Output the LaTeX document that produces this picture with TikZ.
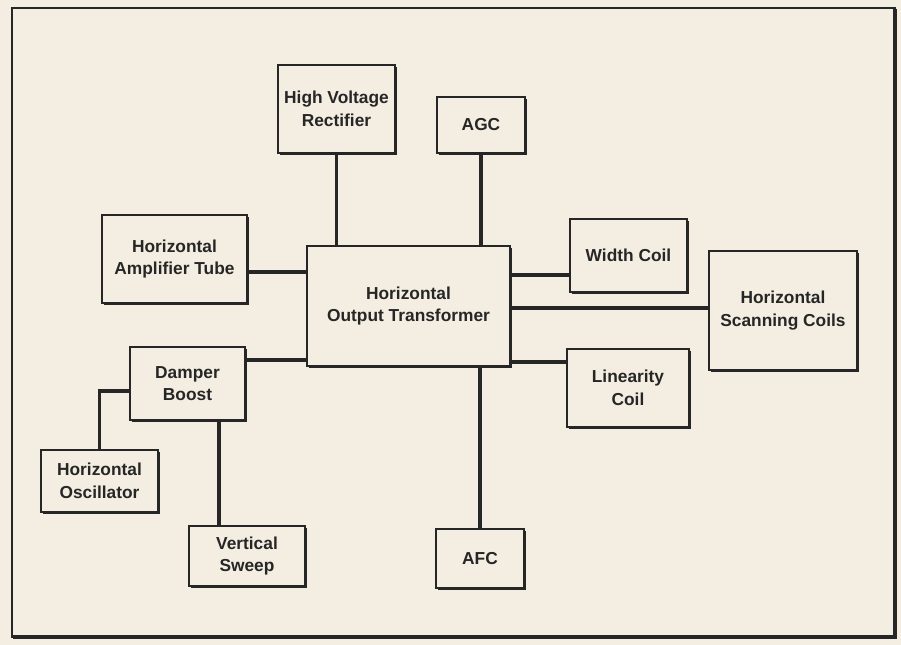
\documentclass[tikz,border=0pt]{standalone}
\usepackage{fontspec}
\setmainfont{Liberation Sans}
\usetikzlibrary{shadows}

\definecolor{paper}{HTML}{F3EEE1}
\definecolor{ink}{HTML}{262626}

\tikzset{
    blk/.style={draw=ink, line width=1.5pt, fill=paper, text=ink,
        align=center, inner sep=0pt,
        font=\bfseries\fontsize{13}{17}\selectfont,
        drop shadow={shadow xshift=1.8pt, shadow yshift=-1.8pt,
            fill=ink, opacity=1}},
    wire/.style={draw=ink, line width=2.8pt}
}

\begin{document}
\begin{tikzpicture}[x=0.75pt, y=-0.75pt]
% Paper and frame
\useasboundingbox (0,0) rectangle (901,645);
\fill[paper] (0,0) rectangle (901,645);
\draw[ink, line width=1.2pt] (12,8) rectangle (895,637);
\draw[ink, line width=3pt] (895,9) -- (895,637) -- (13,637);

% Transformer in the middle
\node[blk, minimum width=152.25pt, minimum height=90pt] (xfmr) at (408.5,306) {Horizontal\\Output Transformer};

% Upper blocks
\node[blk, minimum width=87.75pt, minimum height=66pt] (hvr) at (336.5,109) {High Voltage\\Rectifier};
\node[blk, minimum width=66pt, minimum height=42pt] (agc) at (481,125) {AGC};
\node[blk, minimum width=108.75pt, minimum height=66pt] (amp) at (174.5,259) {Horizontal\\Amplifier Tube};

% Right-hand blocks
\node[blk, minimum width=87.75pt, minimum height=54.75pt] (wcoil) at (628.5,255.5) {Width Coil};
\node[blk, minimum width=111pt, minimum height=89.25pt] (scan) at (783,310.5) {Horizontal\\Scanning Coils};
\node[blk, minimum width=91.5pt, minimum height=58.5pt] (lcoil) at (628,388) {Linearity\\Coil};

% Lower blocks
\node[blk, minimum width=86.25pt, minimum height=54.75pt] (damper) at (187.5,383.5) {Damper\\Boost};
\node[blk, minimum width=87.75pt, minimum height=46.5pt] (osc) at (99.5,481) {Horizontal\\Oscillator};
\node[blk, minimum width=87pt, minimum height=45pt] (vsweep) at (247,556) {Vertical\\Sweep};
\node[blk, minimum width=66pt, minimum height=44.25pt] (afc) at (480,558.5) {AFC};

% Connections to the transformer
\draw[wire] (hvr.south) -- (hvr.south |- xfmr.north);
\draw[wire] (agc.south) -- (agc.south |- xfmr.north);
\draw[wire] (amp.east |- 0,272) -- (xfmr.west |- 0,272);
\draw[wire] (damper.east |- 0,360) -- (xfmr.west |- 0,360);
\draw[wire] (xfmr.east |- 0,275) -- (wcoil.west |- 0,275);
\draw[wire] (xfmr.east |- 0,308) -- (scan.west |- 0,308);
\draw[wire] (xfmr.east |- 0,362) -- (lcoil.west |- 0,362);
\draw[wire] (afc.north |- xfmr.south) -- (afc.north);

% Damper branches
\draw[wire] (damper.west |- 0,391) -| (osc.north);
\draw[wire] (damper.south -| 219,0) -- (vsweep.north -| 219,0);
\end{tikzpicture}
\end{document}
